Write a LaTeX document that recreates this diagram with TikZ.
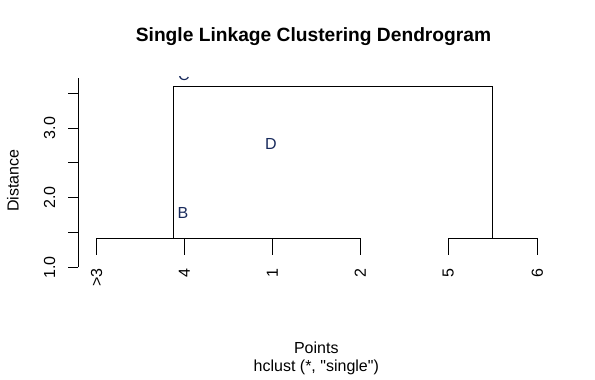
\documentclass[tikz,border=0pt]{standalone}
\usepackage{fontspec}
\setmainfont{Liberation Sans}
\usetikzlibrary{positioning}
\definecolor{letterblue}{RGB}{24,42,92}

\begin{document}
\begin{tikzpicture}[
  x=1pt, y=-1pt,
  font=\fontsize{16}{19}\selectfont,
  seg/.style      = {line width=1pt, line cap=rect},
  axisline/.style = {line width=1pt},
  ticklab/.style  = {rotate=90, anchor=base, inner sep=0pt},
  leaflab/.style  = {rotate=90, anchor=east, inner sep=0pt},
  letter/.style   = {text=letterblue, inner sep=0pt}
]
\useasboundingbox (0,0) rectangle (595,380);

\node[font=\fontsize{19.2}{23}\selectfont\bfseries, anchor=base] (title)
     at (313.5,41.5) {Single Linkage Clustering Dendrogram};

% distance axis
\coordinate (ytop) at (78.3,78.3);
\coordinate (ybot) at (78.3,267.3);
\draw[axisline] (ytop) -- (ybot);
\foreach \y in {93.3,128.1,162.9,197.7,232.5,267.3}
  \draw[axisline] (78.3,\y) -- ++(-10,0);
\node[ticklab] (tick1) at (55,267.3) {1.0};
\node[ticklab] (tick2) at (55,197.7) {2.0};
\node[ticklab] (tick3) at (55,128.1) {3.0};
\node[rotate=90, anchor=base, inner sep=0pt] (ylab) at (18.5,180.5) {Distance};

% leaves
\coordinate (leaf3) at (96.7,254.3);
\coordinate (leaf4) at (184.3,254.3);
\coordinate (leaf1) at (272.3,254.3);
\coordinate (leaf2) at (360.3,254.3);
\coordinate (leaf5) at (448.3,254.3);
\coordinate (leaf6) at (537.3,254.3);
\node[leaflab] (lab3) at (96.7,268) {>3};
\node[leaflab] (lab4) at (184.3,268) {4};
\node[leaflab] (lab1) at (272.3,268) {1};
\node[leaflab] (lab2) at (360.3,268) {2};
\node[leaflab] (lab5) at (448.3,268) {5};
\node[leaflab] (lab6) at (537.3,268) {6};

% merges
\coordinate (joinA) at (173.3,238.3);
\coordinate (joinB) at (492.7,238.3);
\coordinate (root)  at (173.3,86);

\draw[seg] (leaf3) -- (leaf3 |- joinA) -- (leaf2 |- joinA) -- (leaf2);
\draw[seg] (leaf4) -- (leaf4 |- joinA);
\draw[seg] (leaf1) -- (leaf1 |- joinA);
\draw[seg] (leaf5) -- (leaf5 |- joinB) -- (leaf6 |- joinB) -- (leaf6);
\draw[seg] (joinA) -- (root) -- (root -| joinB) -- (joinB);

\node[letter] (ptB) at (183,213) {B};
\node[letter] (ptD) at (271,144) {D};
\begin{scope}
  \clip (0,76.5) rectangle (595,380);
  \node[letter] (ptC) at (184,75) {C};
\end{scope}

\node[anchor=base] (xlab) at (316.3,353.3) {Points};
\node[anchor=base] (sub)  at (316.3,371.3)
     {hclust (*, \textquotedbl single\textquotedbl)};

\end{tikzpicture}
\end{document}
